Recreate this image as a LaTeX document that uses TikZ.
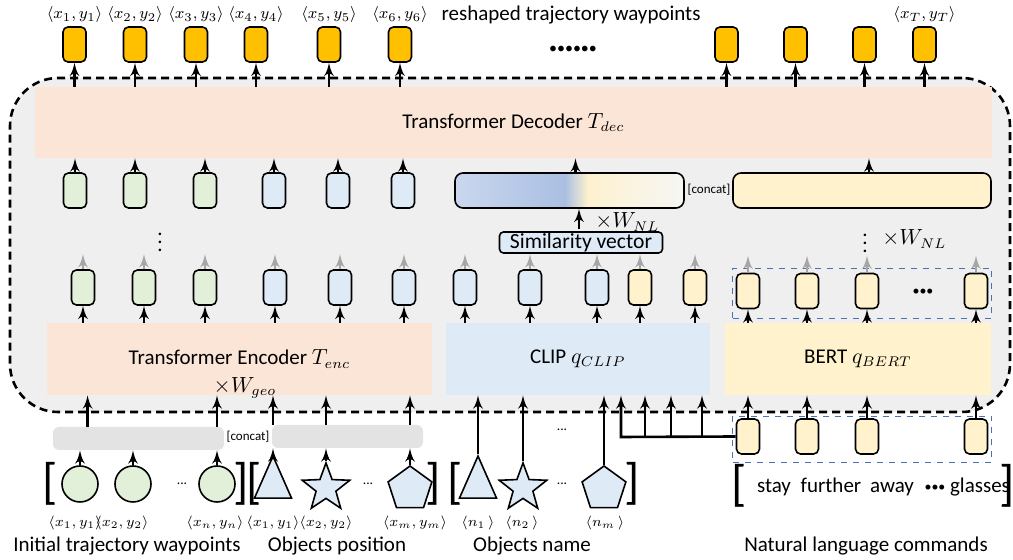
\documentclass[tikz,border=0pt]{standalone}
\usepackage{fontspec}
\setmainfont{Carlito}
\usepackage{amsmath}
\usetikzlibrary{arrows}
\usetikzlibrary{shapes.geometric}
\usetikzlibrary{calc}

\definecolor{framegray}{HTML}{EFEFEF}
\definecolor{peach}{HTML}{FBE5D6}
\definecolor{lblue}{HTML}{DEEBF7}
\definecolor{lgreen}{HTML}{E2F0D9}
\definecolor{lyellow}{HTML}{FFF2CC}
\definecolor{gold}{HTML}{FFC000}
\definecolor{bargray}{HTML}{E3E3E3}
\definecolor{dashblue}{HTML}{4A70B8}
\definecolor{simA}{HTML}{CAD7EE}
\definecolor{simB}{HTML}{AABFE3}
\definecolor{simC}{HTML}{FDF1CF}
\definecolor{simD}{HTML}{F6F6F4}

\pgfdeclarehorizontalshading{simshade}{100bp}{color(0bp)=(simA); color(25bp)=(simA); color(49bp)=(simB); color(54bp)=(simC); color(75bp)=(simD); color(100bp)=(simD)}

\newcommand{\mainfs}{\fontsize{10.5}{12}\selectfont}
\newcommand{\toplab}{\fontsize{8.5}{10}\selectfont}
\newcommand{\botlab}{\fontsize{6.8}{8}\selectfont}
\newcommand{\tinylab}{\fontsize{6.5}{8}\selectfont}
\newcommand{\brk}{\fontsize{25}{25}\selectfont}

\begin{document}
\begin{tikzpicture}[>=latex', x=0.5pt, y=-0.5pt, every node/.style={inner sep=0pt},
    tok/.style={draw, thick, rounded corners=2.5pt, minimum width=11.5pt, minimum height=17.5pt},
    arr/.style={->, line width=1.3pt},
    garr/.style={->, line width=1.3pt, gray!70},
    module/.style={minimum height=36pt}]
      \useasboundingbox (0,0) rectangle (1013,560);

      % dashed frame of the model
      \node at (510,245) [draw, line width=1.3pt, dash pattern=on 4pt off 2.5pt, rounded corners=24pt,
      fill=framegray, minimum width=500pt, minimum height=167pt, name=frame] {};

      % decoder and output waypoints
      \node at (513.5,122.5) [fill=peach, minimum width=478.5pt, minimum height=35.5pt, name=dec]
      {\mainfs Transformer Decoder $T_{dec}$};

      \node at (74.5,44.5) [tok, fill=gold, name=o1] {};
      \node at (135,44.5) [tok, fill=gold, name=o2] {};
      \node at (196,44.5) [tok, fill=gold, name=o3] {};
      \node at (256,44.5) [tok, fill=gold, name=o4] {};
      \node at (329,44.5) [tok, fill=gold, name=o5] {};
      \node at (400,44.5) [tok, fill=gold, name=o6] {};
      \node at (726.5,44.5) [tok, fill=gold, name=o7] {};
      \node at (795.5,44.5) [tok, fill=gold, name=o8] {};
      \node at (864.5,44.5) [tok, fill=gold, name=o9] {};
      \node at (924.5,44.5) [tok, fill=gold, name=oT] {};

      \node at (74.5,15) [name=lo1] {\toplab $\langle x_1,y_1\rangle$};
      \node at (135,15) [name=lo2] {\toplab $\langle x_2,y_2\rangle$};
      \node at (196,15) [name=lo3] {\toplab $\langle x_3,y_3\rangle$};
      \node at (256,15) [name=lo4] {\toplab $\langle x_4,y_4\rangle$};
      \node at (329,15) [name=lo5] {\toplab $\langle x_5,y_5\rangle$};
      \node at (400,15) [name=lo6] {\toplab $\langle x_6,y_6\rangle$};
      \node at (924.5,15) [name=loT] {\toplab $\langle x_T,y_T\rangle$};
      \node at (571,15) [name=reshaped] {\mainfs reshaped trajectory waypoints};
      \node at (573,50) [name=odots] {\fontsize{8}{8}\selectfont ••••••};

      \draw [arr] (o1.south |- dec.north) -- (o1.south);
      \draw [arr] (o2.south |- dec.north) -- (o2.south);
      \draw [arr] (o3.south |- dec.north) -- (o3.south);
      \draw [arr] (o4.south |- dec.north) -- (o4.south);
      \draw [arr] (o5.south |- dec.north) -- (o5.south);
      \draw [arr] (o6.south |- dec.north) -- (o6.south);
      \draw [arr] (o7.south |- dec.north) -- (o7.south);
      \draw [arr] (o8.south |- dec.north) -- (o8.south);
      \draw [arr] (o9.south |- dec.north) -- (o9.south);
      \draw [arr] (oT.south |- dec.north) -- (oT.south);

      % upper tokens
      \node at (75,190.5) [tok, fill=lgreen, name=u1] {};
      \node at (135,190.5) [tok, fill=lgreen, name=u2] {};
      \node at (205,190.5) [tok, fill=lgreen, name=u3] {};
      \node at (274,190.5) [tok, fill=lblue, name=u4] {};
      \node at (338,190.5) [tok, fill=lblue, name=u5] {};
      \node at (403,190.5) [tok, fill=lblue, name=u6] {};

      \node at (569.5,190.5) [draw, thick, rounded corners=4pt, shading=simshade,
      minimum width=114.5pt, minimum height=17.5pt, name=sim] {};
      \node at (709,190) [name=cat1] {\tinylab [concat]};
      \node at (862,190.5) [draw, thick, rounded corners=4pt, fill=lyellow,
      minimum width=129pt, minimum height=17.5pt, name=nl] {};

      \draw [arr] (u1.north) -- (u1.north |- dec.south);
      \draw [arr] (u2.north) -- (u2.north |- dec.south);
      \draw [arr] (u3.north) -- (u3.north |- dec.south);
      \draw [arr] (u4.north) -- (u4.north |- dec.south);
      \draw [arr] (u5.north) -- (u5.north |- dec.south);
      \draw [arr] (u6.north) -- (u6.north |- dec.south);
      \draw [arr] ($(sim.north)+(6,0)$) -- ($(sim.north |- dec.south)+(6,0)$);
      \draw [arr] ($(nl.north)+(7,0)$) -- ($(nl.north |- dec.south)+(7,0)$);

      % repeated layers
      \node at (160,236) [name=vd1] {\mainfs $\boldsymbol{\vdots}$};
      \node at (581,242.5) [draw, thick, rounded corners=2pt, fill=lblue,
      minimum width=81.5pt, minimum height=10.5pt, name=simv] {\fontsize{10.8}{12}\selectfont Similarity vector};
      \draw [arr] ($(simv.north)+(-2,-2)$) -- ($(sim.south)+(9.5,0)$);
      \node at (595,222) [anchor=west, name=wnl1] {\mainfs $\times W_{NL}$};
      \node at (865,237) [name=vd2] {\mainfs $\boldsymbol{\vdots}$};
      \node at (882,239) [anchor=west, name=wnl2] {\mainfs $\times W_{NL}$};

      % lower tokens
      \node at (83,287.5) [tok, fill=lgreen, name=l1] {};
      \node at (144,287.5) [tok, fill=lgreen, name=l2] {};
      \node at (205,287.5) [tok, fill=lgreen, name=l3] {};
      \node at (275,287.5) [tok, fill=lblue, name=l4] {};
      \node at (340,287.5) [tok, fill=lblue, name=l5] {};
      \node at (404,287.5) [tok, fill=lblue, name=l6] {};
      \node at (465,287.5) [tok, fill=lblue, name=l7] {};
      \node at (530,287.5) [tok, fill=lblue, name=l8] {};
      \node at (597,287.5) [tok, fill=lblue, name=l9] {};
      \node at (640,287.5) [tok, fill=lyellow, name=l10] {};
      \node at (695,287.5) [tok, fill=lyellow, name=l11] {};

      \node at (862,293) [draw, dashed, thin, dashblue, minimum width=129.5pt, minimum height=25pt, name=bbox1] {};
      \node at (748,291) [tok, fill=lyellow, name=bt1] {};
      \node at (807,291) [tok, fill=lyellow, name=bt2] {};
      \node at (867,291) [tok, fill=lyellow, name=bt3] {};
      \node at (976,291) [tok, fill=lyellow, name=bt4] {};
      \node at (923,292) [name=btdots] {\fontsize{7}{7}\selectfont •••};

      \draw [garr] (l1.north) -- ++(0,-15);
      \draw [garr] (l2.north) -- ++(0,-15);
      \draw [garr] (l3.north) -- ++(0,-15);
      \draw [garr] (l4.north) -- ++(0,-15);
      \draw [garr] (l5.north) -- ++(0,-15);
      \draw [garr] (l6.north) -- ++(0,-15);
      \draw [garr] (l7.north) -- ++(0,-15);
      \draw [garr] (l8.north) -- ++(0,-15);
      \draw [garr] (l9.north) -- ++(0,-15);
      \draw [garr] (l10.north) -- ++(0,-15);
      \draw [garr] (l11.north) -- ++(0,-15);
      \draw [garr] (bt1.north) -- ++(0,-17);
      \draw [garr] (bt2.north) -- ++(0,-17);
      \draw [garr] (bt3.north) -- ++(0,-17);
      \draw [garr] (bt4.north) -- ++(0,-17);

      % encoders
      \node at (239.5,359) [module, fill=peach, minimum width=192.5pt, name=enc]
      {\raisebox{-3pt}{\mainfs Transformer Encoder $T_{enc}$}};
      \node at (245,388) [name=wgeo] {\mainfs $\times W_{geo}$};
      \node at (578,359) [module, fill=lblue, minimum width=132pt, name=clip]
      {\raisebox{-3pt}{\mainfs CLIP $q_{CLIP}$}};
      \node at (858,359) [module, fill=lyellow, minimum width=133pt, name=bert]
      {\raisebox{-3pt}{\mainfs BERT $q_{BERT}$}};

      \draw [arr] (l1.south |- enc.north) -- (l1.south);
      \draw [arr] (l2.south |- enc.north) -- (l2.south);
      \draw [arr] (l3.south |- enc.north) -- (l3.south);
      \draw [arr] (l4.south |- enc.north) -- (l4.south);
      \draw [arr] (l5.south |- enc.north) -- (l5.south);
      \draw [arr] (l6.south |- enc.north) -- (l6.south);
      \draw [arr] (l7.south |- clip.north) -- (l7.south);
      \draw [arr] (l8.south |- clip.north) -- (l8.south);
      \draw [arr] (l9.south |- clip.north) -- (l9.south);
      \draw [arr] (l10.south |- clip.north) -- (l10.south);
      \draw [arr] (l11.south |- clip.north) -- (l11.south);
      \draw [arr] (bt1.south |- bert.north) -- (bt1.south);
      \draw [arr] (bt2.south |- bert.north) -- (bt2.south);
      \draw [arr] (bt3.south |- bert.north) -- (bt3.south);
      \draw [arr] (bt4.south |- bert.north) -- (bt4.south);

      % geometric inputs
      \node at (138.5,438.5) [fill=bargray, rounded corners=3pt, minimum width=85.5pt, minimum height=11.5pt, name=bar1] {};
      \node at (347.5,436.5) [fill=bargray, rounded corners=3pt, minimum width=75.5pt, minimum height=11.5pt, name=bar2] {};
      \node at (248,437) [name=cat2] {\tinylab [concat]};

      \node at (80,484) [circle, draw, thick, fill=lgreen, minimum size=18pt, name=g1] {};
      \node at (133,484) [circle, draw, thick, fill=lgreen, minimum size=18pt, name=g2] {};
      \node at (217,484) [circle, draw, thick, fill=lgreen, minimum size=18pt, name=gn] {};
      \node at (182,484) [name=gdots] {\botlab ...};
      \node at (50,484) [name=gl] {\brk [};
      \node at (241,484) [name=gr] {\brk ]};

      \node at (273,486) [isosceles triangle, isosceles triangle stretches, shape border rotate=90,
      draw, thick, fill=lblue, minimum width=18.5pt, minimum height=21pt, name=p1] {};
      \node at (326,488) [star, star points=5, star point ratio=2.4, draw, thick, fill=lblue,
      minimum size=25pt, name=p2] {};
      \node at (368,484) [name=pdots] {\botlab ...};
      \node at (410,489) [regular polygon, regular polygon sides=5, draw, thick, fill=lblue,
      minimum size=23pt, name=pm] {};
      \node at (254,484) [name=pl] {\brk [};
      \node at (433,484) [name=pr] {\brk ]};

      \draw [arr] ($(bar1.north west)+(35,0)$) -- ($(bar1.north west |- enc.south)+(35,0)$);
      \draw [arr] (bar1.north -| gn) -- (gn |- enc.south);
      \draw [arr] (bar2.north -| p1) -- (p1 |- enc.south);
      \draw [arr] (bar2.north -| p2) -- (p2 |- enc.south);
      \draw [arr] (bar2.north -| pm) -- (pm |- enc.south);
      \draw [arr] (g1.north) -- (g1 |- bar1.south);
      \draw [arr] (g2.north) -- (g2 |- bar1.south);
      \draw [arr] (gn.north) -- (gn |- bar1.south);
      \draw [arr] (p1.north) -- (p1 |- bar2.south);
      \draw [arr] (p2.north) -- (p2 |- bar2.south);
      \draw [arr] (pm.north) -- (pm |- bar2.south);

      \node at (75,523) [name=lg1] {\botlab $\langle x_1,y_1\rangle$};
      \node at (122,523) [name=lg2] {\botlab $\langle x_2,y_2\rangle$};
      \node at (215,523) [name=lgn] {\botlab $\langle x_n,y_n\rangle$};
      \node at (273,523) [name=lp1] {\botlab $\langle x_1,y_1\rangle$};
      \node at (326,523) [name=lp2] {\botlab $\langle x_2,y_2\rangle$};
      \node at (415,523) [name=lpm] {\botlab $\langle x_m,y_m\rangle$};

      % object names
      \node at (478,486) [isosceles triangle, isosceles triangle stretches, shape border rotate=90,
      draw, thick, fill=lblue, minimum width=18.5pt, minimum height=21pt, name=n1] {};
      \node at (523,488) [star, star points=5, star point ratio=2.4, draw, thick, fill=lblue,
      minimum size=25pt, name=n2] {};
      \node at (562,484) [name=ndots] {\botlab ...};
      \node at (604,489) [regular polygon, regular polygon sides=5, draw, thick, fill=lblue,
      minimum size=23pt, name=nm] {};
      \node at (455,484) [name=nlb] {\brk [};
      \node at (632,484) [name=nrb] {\brk ]};
      \node at (562,430) [name=clipdots] {\botlab ...};

      \draw [arr] (n1.north) -- (n1 |- clip.south);
      \draw [arr] (n2.north) -- (n2 |- clip.south);
      \draw [arr] (nm.north) -- (nm |- clip.south);

      \node at (478,523) [name=ln1] {\botlab $\langle n_1\,\rangle$};
      \node at (522,523) [name=ln2] {\botlab $\langle n_2\,\rangle$};
      \node at (605,523) [name=lnm] {\botlab $\langle n_m\,\rangle$};

      % language command
      \node at (862,439.5) [draw, dashed, thin, dashblue, minimum width=129.5pt, minimum height=23pt, name=bbox2] {};
      \node at (748,436.5) [tok, fill=lyellow, name=bw1] {};
      \node at (807,436.5) [tok, fill=lyellow, name=bw2] {};
      \node at (867,436.5) [tok, fill=lyellow, name=bw3] {};
      \node at (976,436.5) [tok, fill=lyellow, name=bw4] {};

      \draw [arr] (bw1.north) -- (bw1 |- bert.south);
      \draw [arr] (bw2.north) -- (bw2 |- bert.south);
      \draw [arr] (bw3.north) -- (bw3 |- bert.south);
      \draw [arr] (bw4.north) -- (bw4 |- bert.south);

      \coordinate (k1) at (621,437);
      \coordinate (k2) at (645,437);
      \coordinate (k3) at (671,437);
      \coordinate (k4) at (702,437);
      \draw [arr] (bw1.west) -- (k1) -- (k1 |- clip.south);
      \draw [arr] (k2) -- (k2 |- clip.south);
      \draw [arr] (k3) -- (k3 |- clip.south);
      \draw [arr] (k4) -- (k4 |- clip.south);

      \node at (739,486) [name=wl] {\brk [};
      \node at (774,493) [anchor=base, name=w1] {\mainfs stay};
      \node at (831,493) [anchor=base, name=w2] {\mainfs further};
      \node at (892,493) [anchor=base, name=w3] {\mainfs away};
      \node at (935,488) [name=w4] {\fontsize{7}{7}\selectfont •••};
      \node at (980,493) [anchor=base, name=w5] {\mainfs glasses};
      \node at (1007,486) [name=wr] {\brk ]};

      % input captions
      \node at (127,552) [anchor=base, name=cap1] {\mainfs Initial trajectory waypoints};
      \node at (337,552) [anchor=base, name=cap2] {\mainfs Objects position};
      \node at (532,552) [anchor=base, name=cap3] {\mainfs Objects name};
      \node at (866,552) [anchor=base, name=cap4] {\mainfs Natural language commands};
    \end{tikzpicture}
\end{document}
